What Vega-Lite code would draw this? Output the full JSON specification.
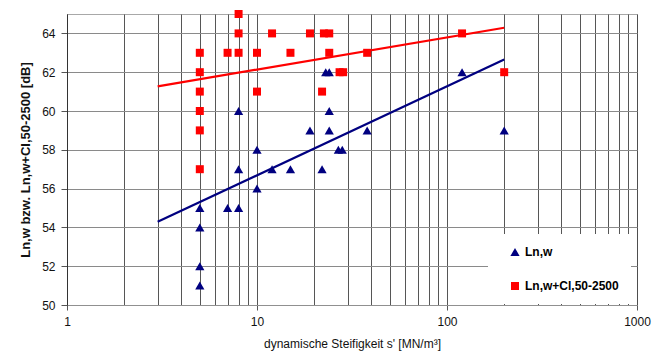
{
  "$schema": "https://vega.github.io/schema/vega-lite/v6.json",
  "width": 570,
  "height": 291,
  "autosize": "none",
  "padding": {"left": 67, "top": 14, "right": 17, "bottom": 48},
  "background": "white",
  "config": {
    "view": {"stroke": "#a8a8a8", "strokeWidth": 1},
    "font": "Liberation Sans",
    "axis": {"labelFont": "Liberation Sans", "titleFont": "Liberation Sans", "labelColor": "#111", "titleColor": "#111"}
  },
  "datasets": {
    "pts": [
      {"s": 5, "L": 51, "series": "Ln,w"},
      {"s": 5, "L": 52, "series": "Ln,w"},
      {"s": 5, "L": 54, "series": "Ln,w"},
      {"s": 5, "L": 55, "series": "Ln,w"},
      {"s": 7, "L": 55, "series": "Ln,w"},
      {"s": 8, "L": 55, "series": "Ln,w"},
      {"s": 10, "L": 56, "series": "Ln,w"},
      {"s": 8, "L": 57, "series": "Ln,w"},
      {"s": 12, "L": 57, "series": "Ln,w"},
      {"s": 15, "L": 57, "series": "Ln,w"},
      {"s": 22, "L": 57, "series": "Ln,w"},
      {"s": 10, "L": 58, "series": "Ln,w"},
      {"s": 26.8, "L": 58, "series": "Ln,w"},
      {"s": 28.1, "L": 58, "series": "Ln,w"},
      {"s": 19, "L": 59, "series": "Ln,w"},
      {"s": 24, "L": 59, "series": "Ln,w"},
      {"s": 38, "L": 59, "series": "Ln,w"},
      {"s": 200, "L": 59, "series": "Ln,w"},
      {"s": 8, "L": 60, "series": "Ln,w"},
      {"s": 24, "L": 60, "series": "Ln,w"},
      {"s": 23, "L": 62, "series": "Ln,w"},
      {"s": 24, "L": 62, "series": "Ln,w"},
      {"s": 120, "L": 62, "series": "Ln,w"},
      {"s": 5, "L": 57, "series": "Ln,w+Cl,50-2500"},
      {"s": 5, "L": 59, "series": "Ln,w+Cl,50-2500"},
      {"s": 5, "L": 60, "series": "Ln,w+Cl,50-2500"},
      {"s": 5, "L": 61, "series": "Ln,w+Cl,50-2500"},
      {"s": 5, "L": 62, "series": "Ln,w+Cl,50-2500"},
      {"s": 5, "L": 63, "series": "Ln,w+Cl,50-2500"},
      {"s": 7, "L": 63, "series": "Ln,w+Cl,50-2500"},
      {"s": 8, "L": 63, "series": "Ln,w+Cl,50-2500"},
      {"s": 8, "L": 64, "series": "Ln,w+Cl,50-2500"},
      {"s": 8, "L": 65, "series": "Ln,w+Cl,50-2500"},
      {"s": 10, "L": 61, "series": "Ln,w+Cl,50-2500"},
      {"s": 10, "L": 63, "series": "Ln,w+Cl,50-2500"},
      {"s": 12, "L": 64, "series": "Ln,w+Cl,50-2500"},
      {"s": 15, "L": 63, "series": "Ln,w+Cl,50-2500"},
      {"s": 19, "L": 64, "series": "Ln,w+Cl,50-2500"},
      {"s": 22, "L": 61, "series": "Ln,w+Cl,50-2500"},
      {"s": 22.5, "L": 64, "series": "Ln,w+Cl,50-2500"},
      {"s": 24, "L": 64, "series": "Ln,w+Cl,50-2500"},
      {"s": 24, "L": 63, "series": "Ln,w+Cl,50-2500"},
      {"s": 27.2, "L": 62, "series": "Ln,w+Cl,50-2500"},
      {"s": 28.4, "L": 62, "series": "Ln,w+Cl,50-2500"},
      {"s": 38, "L": 63, "series": "Ln,w+Cl,50-2500"},
      {"s": 120, "L": 64, "series": "Ln,w+Cl,50-2500"},
      {"s": 200, "L": 62, "series": "Ln,w+Cl,50-2500"}
    ],
    "fits": [
      {"s": 3, "L": 54.29, "series": "Ln,w"},
      {"s": 200, "L": 62.65, "series": "Ln,w"},
      {"s": 3, "L": 61.27, "series": "Ln,w+Cl,50-2500"},
      {"s": 200, "L": 64.29, "series": "Ln,w+Cl,50-2500"}
    ]
  },
  "layer": [
    {
      "data": {"name": "fits"},
      "transform": [{"filter": "datum.series === 'Ln,w'"}],
      "mark": {"type": "line", "strokeWidth": 2.2, "color": "#000080"},
      "encoding": {
        "x": {
          "field": "s", "type": "quantitative",
          "scale": {"type": "log", "domain": [1, 1000], "nice": false},
          "axis": {
            "title": "dynamische Steifigkeit s' [MN/m³]",
            "titleFontSize": 12, "titleFontWeight": "normal", "titlePadding": 11,
            "values": [1,2,3,4,5,6,7,8,9,10,20,30,40,50,60,70,80,90,100,200,300,400,500,600,700,800,900,1000],
            "format": "d",
            "labelExpr": "indexof([1,10,100,1000], datum.value) >= 0 ? datum.label : ''",
            "labelFontSize": 12, "labelPadding": 6, "labelFlush": false, "labelOverlap": false,
            "tickSize": 5, "tickColor": "#555",
            "tickOpacity": {"condition": {"test": "indexof([1,10,100,1000], datum.value) >= 0", "value": 1}, "value": 0},
            "grid": true, "gridColor": "#444", "gridWidth": 1, "gridOpacity": 0.9,
            "domainColor": "#909090"
          }
        },
        "y": {
          "field": "L", "type": "quantitative",
          "scale": {"domain": [50, 65], "nice": false, "zero": false},
          "axis": {
            "title": "Ln,w bzw. Ln,w+CI,50-2500 [dB]",
            "titleFontSize": 13, "titleFontWeight": "bold", "titlePadding": 9,
            "values": [50,52,54,56,58,60,62,64],
            "labelFontSize": 12, "labelPadding": 6,
            "tickSize": 6, "tickColor": "#555",
            "grid": true, "gridColor": "#8a8a8a", "gridWidth": 1.2,
            "domainColor": "#333"
          }
        }
      }
    },
    {
      "data": {"name": "fits"},
      "transform": [{"filter": "datum.series !== 'Ln,w'"}],
      "mark": {"type": "line", "strokeWidth": 2.2, "color": "#ff0000"},
      "encoding": {
        "x": {"field": "s", "type": "quantitative"},
        "y": {"field": "L", "type": "quantitative"}
      }
    },
    {
      "data": {"name": "pts"},
      "mark": {"type": "point", "filled": true, "opacity": 1, "size": 70, "clip": false},
      "encoding": {
        "x": {"field": "s", "type": "quantitative"},
        "y": {"field": "L", "type": "quantitative"},
        "size": {
          "field": "series", "type": "nominal",
          "scale": {"domain": ["Ln,w", "Ln,w+Cl,50-2500"], "range": [85, 64]},
          "legend": null
        },
        "color": {
          "field": "series", "type": "nominal",
          "scale": {"domain": ["Ln,w", "Ln,w+Cl,50-2500"], "range": ["#000080", "#ff0000"]},
          "legend": {
            "title": null, "orient": "none", "legendX": 421, "legendY": 220,
            "fillColor": "white", "padding": 12, "rowPadding": 22,
            "symbolOffset": 9, "labelOffset": 4, "symbolSize": 64, "symbolStrokeWidth": 0,
            "labelFont": "Liberation Sans", "labelFontSize": 12, "labelFontWeight": "bold", "labelColor": "#000"
          }
        },
        "shape": {
          "field": "series", "type": "nominal",
          "scale": {"domain": ["Ln,w", "Ln,w+Cl,50-2500"], "range": ["triangle-up", "square"]},
          "legend": {
            "title": null, "orient": "none", "legendX": 421, "legendY": 220,
            "fillColor": "white", "padding": 12, "rowPadding": 22,
            "symbolOffset": 9, "labelOffset": 4, "symbolSize": 64, "symbolStrokeWidth": 0,
            "labelFont": "Liberation Sans", "labelFontSize": 12, "labelFontWeight": "bold", "labelColor": "#000"
          }
        }
      }
    }
  ]
}
